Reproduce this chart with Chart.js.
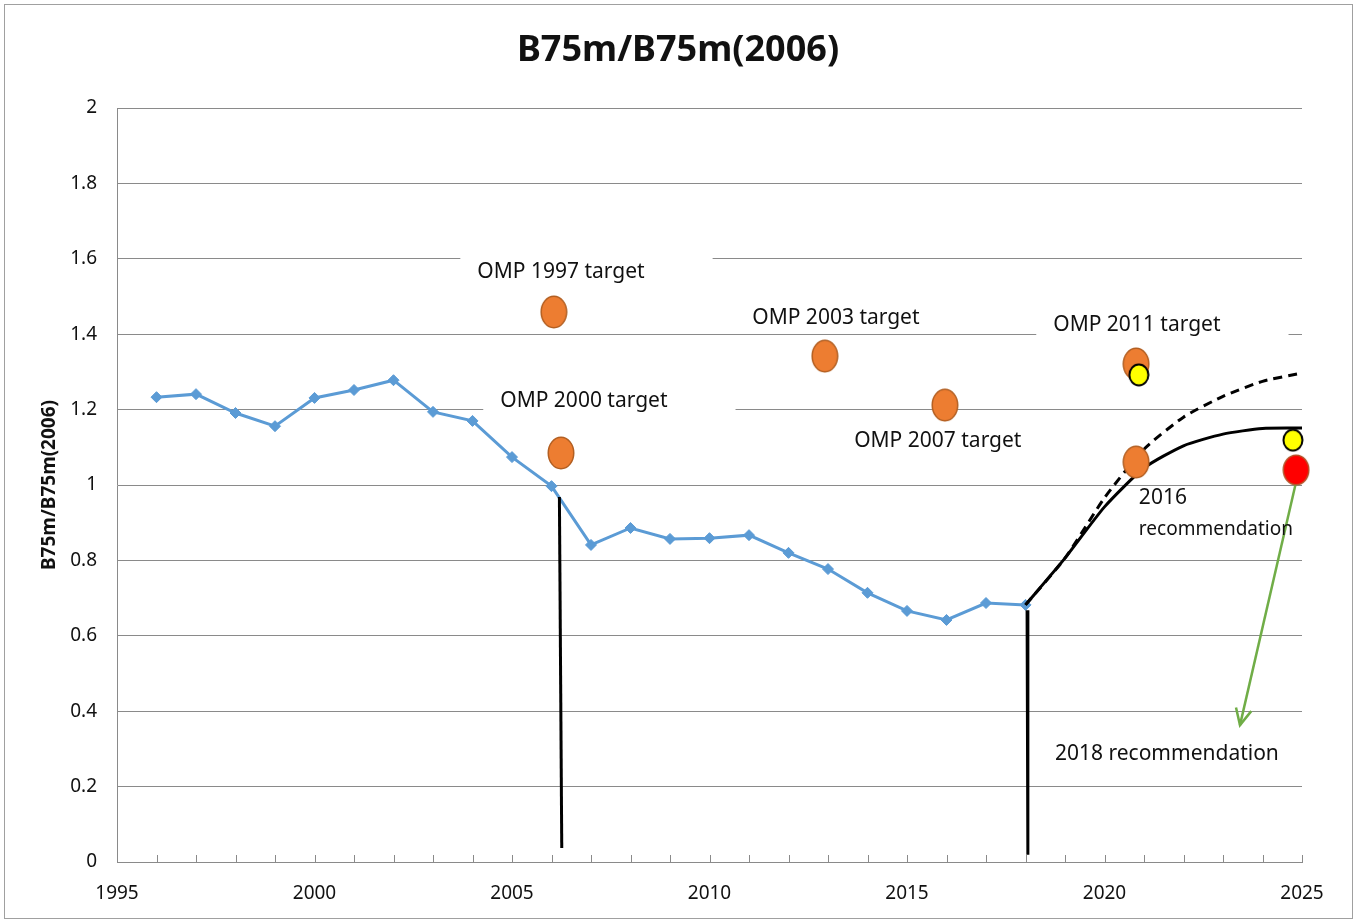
<!DOCTYPE html>
<html>
<head>
<meta charset="utf-8">
<script src="https://cdn.jsdelivr.net/npm/chart.js@4.4.0/dist/chart.umd.min.js"></script>
<style>
  body { margin: 0; background: #fff; }
  #wrap { width: 1357px; height: 922px; }
</style>
</head>
<body>
<div id="wrap"><canvas id="myChart"></canvas></div>
<script>
// observed series
let years = [1996, 1997, 1998, 1999, 2000, 2001, 2002, 2003, 2004, 2005, 2006, 2007,
             2008, 2009, 2010, 2011, 2012, 2013, 2014, 2015, 2016, 2017, 2018];
let b75m = [1.233, 1.241, 1.191, 1.156, 1.231, 1.252, 1.278, 1.194, 1.170, 1.074, 0.997, 0.841,
            0.886, 0.857, 0.859, 0.867, 0.820, 0.777, 0.714, 0.666, 0.642, 0.687, 0.682];

// projections
let projYears = [2018, 2019, 2020, 2021, 2022, 2023, 2024, 2025];
let projLow = [0.682, 0.806, 0.942, 1.045, 1.104, 1.135, 1.150, 1.151];
let projHigh = [0.682, 0.806, 0.966, 1.095, 1.180, 1.235, 1.275, 1.297];

// targets
let ompYears = [2006.06, 2006.24, 2012.92, 2015.96, 2020.8, 2020.8];
let ompValues = [1.459, 1.085, 1.342, 1.212, 1.321, 1.061];
let yellowYears = [2020.87, 2024.77];
let yellowValues = [1.292, 1.119];
let redYears = [2024.85];
let redValues = [1.040];

// vertical markers and arrow
let cut1Years = [2006.2, 2006.26];
let cut1Values = [0.968, 0.037];
let cut2Years = [2018.04, 2018.06];
let cut2Values = [0.668, 0.019];
let arrowYears = [2024.85, 2023.43];
let arrowValues = [1.008, 0.363];

// annotation text (anchored in data coordinates)
let labelTexts = ['OMP 1997 target', 'OMP 2003 target', 'OMP 2000 target', 'OMP 2007 target',
                  'OMP 2011 target', '2016', 'recommendation', '2018 recommendation'];
let labelYears = [2006.24, 2013.2, 2006.82, 2015.78, 2020.82, 2020.87, 2020.87, 2021.58];
let labelValues = [1.565, 1.443, 1.223, 1.117, 1.424, 0.966, 0.881, 0.286];

let xTicks = [1995, 2000, 2005, 2010, 2015, 2020, 2025];

function xy(xs, ys) {
  return xs.map((x, i) => ({ x: x, y: ys[i] }));
}

function ellipse(w, h, fill, stroke, lw) {
  let c = document.createElement('canvas');
  c.width = w; c.height = h;
  let g = c.getContext('2d');
  g.beginPath();
  g.ellipse(w / 2, h / 2, w / 2 - lw / 2 - 0.5, h / 2 - lw / 2 - 0.5, 0, 0, Math.PI * 2);
  g.fillStyle = fill;
  g.fill();
  g.lineWidth = lw;
  g.strokeStyle = stroke;
  g.stroke();
  return c;
}

Chart.defaults.font.family = "'Noto Sans', sans-serif";

const FONT = "'Noto Sans', sans-serif";
const GRID = '#8a8a8a';

let decorations = {
  id: 'decorations',
  beforeDatasetsDraw(chart) {
    let c = chart.ctx, xs = chart.scales.x, ys = chart.scales.y;
    c.save();
    c.font = '21px ' + FONT;
    // white boxes behind the OMP labels
    for (let i = 0; i < 5; i++) {
      let cx = xs.getPixelForValue(labelYears[i]);
      let cy = ys.getPixelForValue(labelValues[i]);
      let w = c.measureText(labelTexts[i]).width;
      c.fillStyle = '#fff';
      c.fillRect(cx - w / 2 - 17, cy - 20, w + 85, 34);
    }
    c.restore();
  },
  afterDraw(chart) {
    let c = chart.ctx, xs = chart.scales.x, ys = chart.scales.y;
    let area = chart.chartArea;
    c.save();

    // outer frame
    c.strokeStyle = '#a0a0a0';
    c.lineWidth = 1;
    c.strokeRect(4.5, 4.5, 1348, 914);

    // title
    c.fillStyle = '#111';
    c.textAlign = 'center';
    c.textBaseline = 'middle';
    c.font = 'bold 36px ' + FONT;
    c.fillText('B75m/B75m(2006)', 678, 51);

    // y axis title
    c.save();
    c.translate(50, 485);
    c.rotate(-Math.PI / 2);
    c.font = 'bold 19px ' + FONT;
    c.fillText('B75m/B75m(2006)', 0, 0);
    c.restore();

    // small inward ticks on the year axis
    c.strokeStyle = GRID;
    c.lineWidth = 1;
    for (let yr = 1995; yr <= 2025; yr++) {
      let px = Math.round(xs.getPixelForValue(yr)) + 0.5;
      c.beginPath();
      c.moveTo(px, area.bottom);
      c.lineTo(px, area.bottom - 7);
      c.stroke();
    }

    // arrow head
    let x0 = xs.getPixelForValue(arrowYears[0]), y0 = ys.getPixelForValue(arrowValues[0]);
    let x1 = xs.getPixelForValue(arrowYears[1]), y1 = ys.getPixelForValue(arrowValues[1]);
    let ang = Math.atan2(y1 - y0, x1 - x0);
    c.strokeStyle = '#70AD47';
    c.lineWidth = 2.5;
    c.beginPath();
    c.moveTo(x1 - 18 * Math.cos(ang - 0.45), y1 - 18 * Math.sin(ang - 0.45));
    c.lineTo(x1, y1);
    c.lineTo(x1 - 18 * Math.cos(ang + 0.45), y1 - 18 * Math.sin(ang + 0.45));
    c.stroke();

    // annotations
    c.fillStyle = '#111';
    c.textBaseline = 'middle';
    for (let i = 0; i < labelTexts.length; i++) {
      let px = xs.getPixelForValue(labelYears[i]);
      let py = ys.getPixelForValue(labelValues[i]);
      if (labelTexts[i] === 'recommendation') {
        c.font = '19px ' + FONT;
        c.textAlign = 'left';
      } else if (labelTexts[i] === '2016') {
        c.font = '21px ' + FONT;
        c.textAlign = 'left';
      } else {
        c.font = '21px ' + FONT;
        c.textAlign = 'center';
      }
      c.fillText(labelTexts[i], px, py);
    }
    c.restore();
  }
};

let ctx = document.getElementById('myChart').getContext('2d');

let chart = new Chart(ctx, {
  type: 'line',
  data: {
    datasets: [
      {
        data: xy(years, b75m),
        borderColor: '#5B9BD5',
        backgroundColor: '#5B9BD5',
        borderWidth: 3,
        pointStyle: 'rectRot',
        pointRadius: 5.5,
        pointBorderWidth: 1,
        order: 10
      },
      {
        data: xy(cut1Years, cut1Values),
        borderColor: '#000',
        borderWidth: 3,
        pointRadius: 0,
        order: 8
      },
      {
        data: xy(cut2Years, cut2Values),
        borderColor: '#000',
        borderWidth: 3,
        pointRadius: 0,
        order: 8
      },
      {
        data: xy(projYears, projHigh),
        borderColor: '#000',
        borderWidth: 3,
        borderDash: [9, 6],
        pointRadius: 0,
        tension: 0.2,
        order: 7
      },
      {
        data: xy(projYears, projLow),
        borderColor: '#000',
        borderWidth: 3,
        pointRadius: 0,
        tension: 0.2,
        order: 7
      },
      {
        data: xy(arrowYears, arrowValues),
        borderColor: '#70AD47',
        borderWidth: 2.5,
        pointRadius: 0,
        order: 6
      },
      {
        data: xy(ompYears, ompValues),
        showLine: false,
        clip: false,
        pointStyle: ellipse(28, 34, '#ED7D31', '#B25F22', 1.5),
        pointRadius: 14,
        order: 3
      },
      {
        data: xy(yellowYears, yellowValues),
        showLine: false,
        clip: false,
        pointStyle: ellipse(22, 24, '#FFFF00', '#000', 2),
        pointRadius: 11,
        order: 2
      },
      {
        data: xy(redYears, redValues),
        showLine: false,
        clip: false,
        pointStyle: ellipse(28, 32, '#FF0000', '#B5542A', 1.5),
        pointRadius: 14,
        order: 1
      }
    ]
  },
  options: {
    responsive: true,
    maintainAspectRatio: false,
    animation: false,
    layout: { padding: { top: 108, right: 55, left: 0, bottom: 0 } },
    plugins: {
      legend: { display: false },
      tooltip: { enabled: false },
      title: { display: false }
    },
    scales: {
      x: {
        type: 'linear',
        min: 1995,
        max: 2025,
        afterFit: function (scale) { scale.height = 60; },
        afterBuildTicks: function (scale) { scale.ticks = xTicks.map(v => ({ value: v })); },
        ticks: {
          stepSize: 5,
          padding: 20,
          color: '#111',
          font: { size: 19 },
          maxRotation: 0,
          callback: v => String(v)
        },
        grid: { display: true, drawOnChartArea: false, drawTicks: false },
        border: { display: true, color: GRID, width: 1 }
      },
      y: {
        min: 0,
        max: 2,
        afterFit: function (scale) { scale.width = 117; },
        ticks: {
          stepSize: 0.2,
          padding: 20,
          color: '#111',
          font: { size: 19 },
          callback: v => String(Math.round(v * 10) / 10)
        },
        grid: { color: GRID, lineWidth: 1, drawTicks: false },
        border: { display: true, color: GRID, width: 1 }
      }
    }
  },
  plugins: [decorations]
});
</script>
</body>
</html>
